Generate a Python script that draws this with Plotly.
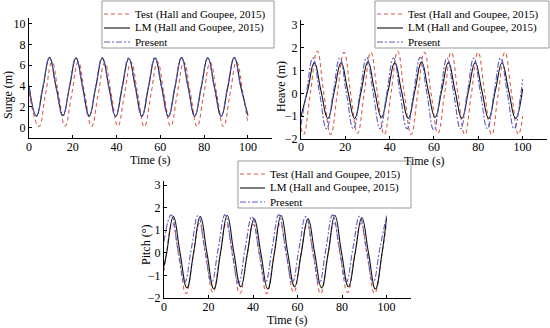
import plotly.graph_objects as go

# ---------------- Surge (m) ----------------
surge_test_t = [0, 4.5, 7.5, 10.5, 13.5, 16.5, 19.5, 22.5, 25.5, 28.6, 31.6, 34.6, 37.6, 40.6, 43.6, 46.6, 49.7,
                52.7, 55.7, 58.7, 61.7, 64.7, 67.7, 70.7, 73.8, 76.8, 79.8, 82.8, 85.8, 88.8, 91.8, 94.8, 97.8, 100]
surge_test_y = [3.4, 0.1, 3.2, 6.3, 3.2, 0.15, 3.2, 6.3, 3.2, 0.1, 3.2, 6.25, 3.2, 0.15, 3.2, 6.3, 3.2,
                0.1, 3.2, 6.3, 3.2, 0.15, 3.2, 6.3, 3.2, 0.1, 3.2, 6.25, 3.2, 0.1, 3.2, 6.3, 3.2, 0.35]
surge_lm_t = [0, 3.4, 6.4, 9.4, 12.4, 15.5, 18.5, 21.5, 24.5, 27.5, 30.5, 33.5, 36.5, 39.6, 42.6, 45.6, 48.6,
              51.6, 54.6, 57.6, 60.6, 63.7, 66.7, 69.7, 72.7, 75.7, 78.7, 81.7, 84.7, 87.8, 90.8, 93.8, 96.8, 100]
surge_lm_y = [4.05, 1.1, 3.9, 6.75, 3.9, 1.15, 3.9, 6.7, 3.9, 1.1, 3.9, 6.7, 3.9, 1.05, 3.9, 6.65, 3.9,
              1.1, 3.9, 6.7, 3.9, 1.05, 3.9, 6.75, 3.9, 1.1, 3.9, 6.7, 3.9, 1.1, 3.9, 6.75, 3.9, 1.15]
surge_pr_t = [0, 3.3, 6.3, 9.3, 12.3, 15.4, 18.4, 21.4, 24.4, 27.4, 30.4, 33.4, 36.4, 39.5, 42.5, 45.5, 48.5,
              51.5, 54.5, 57.5, 60.5, 63.6, 66.6, 69.6, 72.6, 75.6, 78.6, 81.6, 84.6, 87.7, 90.7, 93.7, 96.7, 100]
surge_pr_y = [4.0, 1.15, 3.92, 6.7, 3.92, 1.1, 3.92, 6.72, 3.92, 1.1, 3.92, 6.7, 3.92, 1.1, 3.92, 6.7, 3.92,
              1.1, 3.92, 6.72, 3.92, 1.1, 3.92, 6.7, 3.92, 1.1, 3.92, 6.72, 3.92, 1.1, 3.92, 6.7, 3.92, 1.2]

# ---------------- Heave (m) ----------------
heave_test_t = [0, 1.2, 4.2, 7.3, 10.3, 13.4, 16.4, 19.4, 22.4, 25.5, 28.5, 31.5, 34.5, 37.6, 40.6, 43.6, 46.6,
                49.7, 52.7, 55.7, 58.7, 61.8, 64.8, 67.8, 70.8, 73.9, 76.9, 79.9, 82.9, 86.0, 89.0, 92.0, 95.0, 98.1, 100]
heave_test_y = [-1.5, -1.8, 0, 1.85, 0, -1.8, 0, 1.8, 0, -1.75, 0, 1.8, 0, -1.8, 0, 1.85, 0,
                -1.8, 0, 1.8, 0, -1.75, 0, 1.8, 0, -1.8, 0, 1.8, 0, -1.8, 0, 1.8, 0, -1.8, -1.0]
heave_lm_t = [0, 3.0, 6.0, 9.0, 12.1, 15.1, 18.1, 21.1, 24.2, 27.2, 30.2, 33.2, 36.3, 39.3, 42.3, 45.3, 48.4,
              51.4, 54.4, 57.4, 60.5, 63.5, 66.5, 69.5, 72.6, 75.6, 78.6, 81.6, 84.7, 87.7, 90.7, 93.7, 96.8, 100]
heave_lm_y = [-1.0, 0.12, 1.35, 0.12, -1.1, 0.12, 1.35, 0.12, -1.1, 0.12, 1.38, 0.12, -1.05, 0.12, 1.35, 0.12, -1.1,
              0.12, 1.38, 0.12, -1.05, 0.12, 1.35, 0.12, -1.1, 0.12, 1.35, 0.12, -1.1, 0.12, 1.33, 0.12, -1.1, 0.2]
heave_pr_t = [0, 2.4, 5.4, 8.4, 11.5, 14.5, 17.5, 20.5, 23.6, 26.6, 29.6, 32.6, 35.7, 38.7, 41.7, 44.7, 47.8,
              50.8, 53.8, 56.8, 59.9, 62.9, 65.9, 68.9, 72.0, 75.0, 78.0, 81.0, 84.1, 87.1, 90.1, 93.1, 96.2, 99.2, 100]
heave_pr_y = [-1.4, 0, 1.55, 0, -1.55, 0, 1.55, 0, -1.55, 0, 1.58, 0, -1.55, 0, 1.55, 0, -1.55,
              0, 1.58, 0, -1.6, 0, 1.55, 0, -1.55, 0, 1.55, 0, -1.55, 0, 1.55, 0, -1.55, 0, 0.62]

# ---------------- Pitch (deg) ----------------
pitch_test_t = [0, 0.8, 3.8, 6.8, 9.9, 12.9, 15.9, 18.9, 22.0, 25.0, 28.0, 31.0, 34.1, 37.1, 40.1, 43.1, 46.2,
                49.2, 52.2, 55.2, 58.3, 61.3, 64.3, 67.3, 70.4, 73.4, 76.4, 79.4, 82.5, 85.5, 88.5, 91.5, 94.6, 97.6, 100]
pitch_test_y = [-0.8, -0.25, 1.3, -0.25, -1.8, -0.25, 1.3, -0.25, -1.75, -0.25, 1.3, -0.25, -1.8, -0.25, 1.25, -0.25, -1.8,
                -0.25, 1.3, -0.25, -1.75, -0.25, 1.25, -0.25, -1.8, -0.25, 1.3, -0.25, -1.75, -0.25, 1.3, -0.25, -1.8, -0.25, 1.3]
pitch_lm_t = [0, 1.2, 4.2, 7.2, 10.3, 13.3, 16.3, 19.3, 22.4, 25.4, 28.4, 31.4, 34.5, 37.5, 40.5, 43.5, 46.6,
              49.6, 52.6, 55.6, 58.7, 61.7, 64.7, 67.7, 70.8, 73.8, 76.8, 79.8, 82.9, 85.9, 88.9, 91.9, 95.0, 98.0, 100]
pitch_lm_y = [-0.6, 0, 1.6, 0, -1.55, 0, 1.6, 0, -1.6, 0, 1.65, 0, -1.5, 0, 1.5, 0, -1.6,
              0, 1.65, 0, -1.5, 0, 1.5, 0, -1.55, 0, 1.65, 0, -1.5, 0, 1.55, 0, -1.6, 0, 1.55]
pitch_pr_t = [0, 3.2, 6.2, 9.3, 12.3, 15.3, 18.3, 21.4, 24.4, 27.4, 30.4, 33.5, 36.5, 39.5, 42.5, 45.6, 48.6,
              51.6, 54.6, 57.7, 60.7, 63.7, 66.7, 69.8, 72.8, 75.8, 78.8, 81.9, 84.9, 87.9, 90.9, 94.0, 97.0, 100]
pitch_pr_y = [0.5, 1.68, 0.2, -1.3, 0.2, 1.65, 0.2, -1.3, 0.2, 1.68, 0.2, -1.35, 0.2, 1.6, 0.2, -1.3, 0.2,
              1.68, 0.2, -1.3, 0.2, 1.6, 0.2, -1.35, 0.2, 1.68, 0.2, -1.3, 0.2, 1.62, 0.2, -1.3, 0.2, 1.65]

series_names = ["Test (Hall and Goupee, 2015)", "LM (Hall and Goupee, 2015)", "Present"]
x_ticks = [0, 20, 40, 60, 80, 100]
surge_ticks = [0, 2, 4, 6, 8, 10]
heave_ticks = [-2, -1, 0, 1, 2, 3]
pitch_ticks = [-2, -1, 0, 1, 2, 3]

FONT = "Liberation Serif, Times New Roman, serif"
styles = [dict(color="#d8604c", width=1.1, dash="4px,3px"),
          dict(color="#111111", width=1.1),
          dict(color="#5a5ad0", width=1.1, dash="6px,2px,2px,2px")]

panels = [
    ("x", "y", [(surge_test_t, surge_test_y), (surge_lm_t, surge_lm_y), (surge_pr_t, surge_pr_y)]),
    ("x2", "y2", [(heave_test_t, heave_test_y), (heave_lm_t, heave_lm_y), (heave_pr_t, heave_pr_y)]),
    ("x3", "y3", [(pitch_test_t, pitch_test_y), (pitch_lm_t, pitch_lm_y), (pitch_pr_t, pitch_pr_y)]),
]

fig = go.Figure()
for xa, ya, data in panels:
    for (t, v), name, st in zip(data, series_names, styles):
        fig.add_trace(go.Scatter(x=t, y=v, mode="lines", name=name, xaxis=xa, yaxis=ya, showlegend=False,
                                 line=dict(shape="spline", smoothing=1.3, **st)))

W, H = 550, 328


def xdom(p0, p1):
    return [p0 / W, p1 / W]


def ydom(top, bottom):
    return [1 - bottom / H, 1 - top / H]


def px(x):
    return x / W


def py(y):
    return 1 - y / H


# hand-drawn legend boxes (box left, top, right, bottom; line x0,x1; text x; row y's)
legend_boxes = [
    (102, 1, 274, 48, 104, 130, 133, [14, 28, 42]),
    (375, 1, 549, 48, 377, 403, 406, [14, 28, 42]),
    (238, 161, 411, 208, 240, 265, 268, [174, 188, 202]),
]
shapes, annotations = [], []
for bx0, by0, bx1, by1, lx0, lx1, tx, rows in legend_boxes:
    shapes.append(dict(type="rect", xref="paper", yref="paper", x0=px(bx0), x1=px(bx1), y0=py(by1), y1=py(by0),
                       line=dict(color="#999999", width=1), fillcolor="white", layer="above"))
    for name, st, ry in zip(series_names, styles, rows):
        shapes.append(dict(type="line", xref="paper", yref="paper", x0=px(lx0), x1=px(lx1), y0=py(ry), y1=py(ry),
                           line=dict(color=st["color"], width=st["width"], dash=st.get("dash", "solid")),
                           layer="above"))
        annotations.append(dict(text=name, xref="paper", yref="paper", x=px(tx), y=py(ry), xanchor="left",
                                yanchor="middle", showarrow=False,
                                font=dict(family=FONT, size=11, color="black")))

# axis titles as annotations (text, x center, y center, angle)
axis_titles = [("Surge (m)", 8, 95, -90), ("Heave (m)", 281, 87, -90), ("Pitch (°)", 146, 245, -90),
               ("Time (s)", 150, 160, 0), ("Time (s)", 424, 161, 0), ("Time (s)", 287, 320, 0)]
for txt, tx, ty, ang in axis_titles:
    annotations.append(dict(text=txt, xref="paper", yref="paper", x=px(tx), y=py(ty), xanchor="center",
                            yanchor="middle", textangle=ang, showarrow=False,
                            font=dict(family=FONT, size=12, color="black")))

axis_common = dict(showline=True, linecolor="black", linewidth=1, ticks="inside", ticklen=3,
                   tickcolor="black", showgrid=False, zeroline=False, mirror=False,
                   tickfont=dict(family=FONT, size=12, color="black"))

fig.update_layout(
    width=W, height=H, margin=dict(l=0, r=0, t=0, b=0, autoexpand=False),
    paper_bgcolor="white", plot_bgcolor="white",
    font=dict(family=FONT, size=12, color="black"),
    xaxis=dict(domain=xdom(29, 272), range=[0, 111], tickvals=x_ticks, anchor="y",
               ticklabelstandoff=-2, **axis_common),
    yaxis=dict(domain=ydom(18.4, 138), range=[-1, 10.5], tickvals=surge_ticks, anchor="x", **axis_common),
    xaxis2=dict(domain=xdom(301, 547), range=[0, 111], tickvals=x_ticks, anchor="y2",
                ticklabelstandoff=-3, **axis_common),
    yaxis2=dict(domain=ydom(20.4, 139), range=[-2, 3.2], tickvals=heave_ticks, anchor="x2", **axis_common),
    xaxis3=dict(domain=xdom(164, 411), range=[0, 111], tickvals=x_ticks, anchor="y3",
                ticklabelstandoff=-2, **axis_common),
    yaxis3=dict(domain=ydom(180.5, 298), range=[-2, 3.2], tickvals=pitch_ticks, anchor="x3", **axis_common),
    shapes=shapes, annotations=annotations, showlegend=False,
)

fig.write_html("out.html", config={"displayModeBar": False},
               post_script="document.body.style.margin='0';document.body.style.overflow='hidden';")
